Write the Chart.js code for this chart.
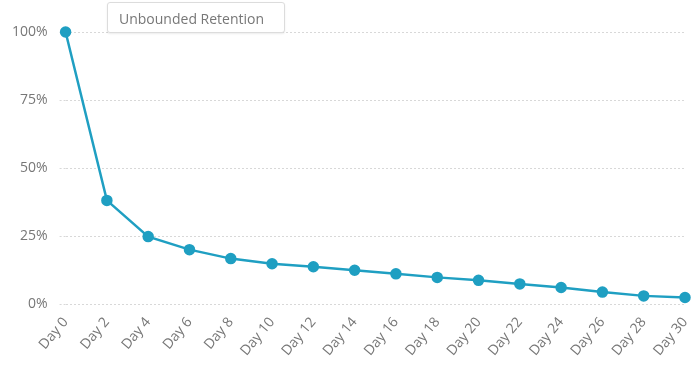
<!DOCTYPE html>
<html>
<head>
<meta charset="utf-8">
<script src="https://cdn.jsdelivr.net/npm/chart.js@4/dist/chart.umd.min.js"></script>
<style>
  html, body { margin: 0; padding: 0; background: #fff; }
  #wrap { position: relative; width: 700px; height: 365px; }
  #leyenda {
    position: absolute; left: 107px; top: 2px; width: 178px; height: 31px;
    border: 1px solid #dcdcdc; border-radius: 3px; background: #fff;
    font: 14px "Open Sans", sans-serif; color: #777;
    box-sizing: border-box; padding: 6px 0 0 11px;
    box-shadow: 0 1px 2px rgba(0,0,0,0.08);
  }
</style>
</head>
<body>
<div id="wrap">
  <canvas id="grafico" width="700" height="365"></canvas>
  <div id="leyenda">Unbounded Retention</div>
</div>
<script>
const dias = ["Day 0", "Day 2", "Day 4", "Day 6", "Day 8", "Day 10", "Day 12", "Day 14",
  "Day 16", "Day 18", "Day 20", "Day 22", "Day 24", "Day 26", "Day 28", "Day 30"];
const retencion = [100, 38.1, 24.8, 20, 16.7, 14.8, 13.7, 12.4, 11.1, 9.8, 8.7, 7.4, 6.1, 4.4, 3.0, 2.4];
const ticksY = [0, 25, 50, 75, 100];

const azul = "#1f9fc2";
const gris = "#777";

const ctx = document.getElementById("grafico").getContext("2d");
new Chart(ctx, {
  type: "line",
  data: {
    labels: dias,
    datasets: [{
      label: "Unbounded Retention",
      data: retencion,
      borderColor: azul,
      backgroundColor: azul,
      borderWidth: 2.5,
      pointRadius: 4.5,
      pointHoverRadius: 5,
      tension: 0,
      clip: false
    }]
  },
  options: {
    responsive: false,
    animation: false,
    layout: { padding: { top: 32, right: 15, left: 0, bottom: 4 } },
    plugins: {
      legend: { display: false },
      tooltip: { enabled: false }
    },
    scales: {
      x: {
        offset: false,
        grid: { display: false },
        border: { display: false },
        ticks: {
          color: gris,
          font: { family: "Open Sans", size: 14 },
          minRotation: 50,
          maxRotation: 50,
          autoSkip: false,
          padding: 2
        }
      },
      y: {
        min: 0,
        max: 100,
        afterBuildTicks: (axis) => { axis.ticks = ticksY.map(v => ({ value: v })); },
        grid: {
          color: "#d8d8d8",
          tickBorderDash: [2, 2],
          tickLength: 6,
          lineWidth: 1
        },
        border: { display: false, dash: [2, 2] },
        ticks: {
          color: gris,
          font: { family: "Open Sans", size: 14 },
          padding: 12,
          callback: (v) => v + "%"
        }
      }
    }
  }
});
</script>
</body>
</html>
